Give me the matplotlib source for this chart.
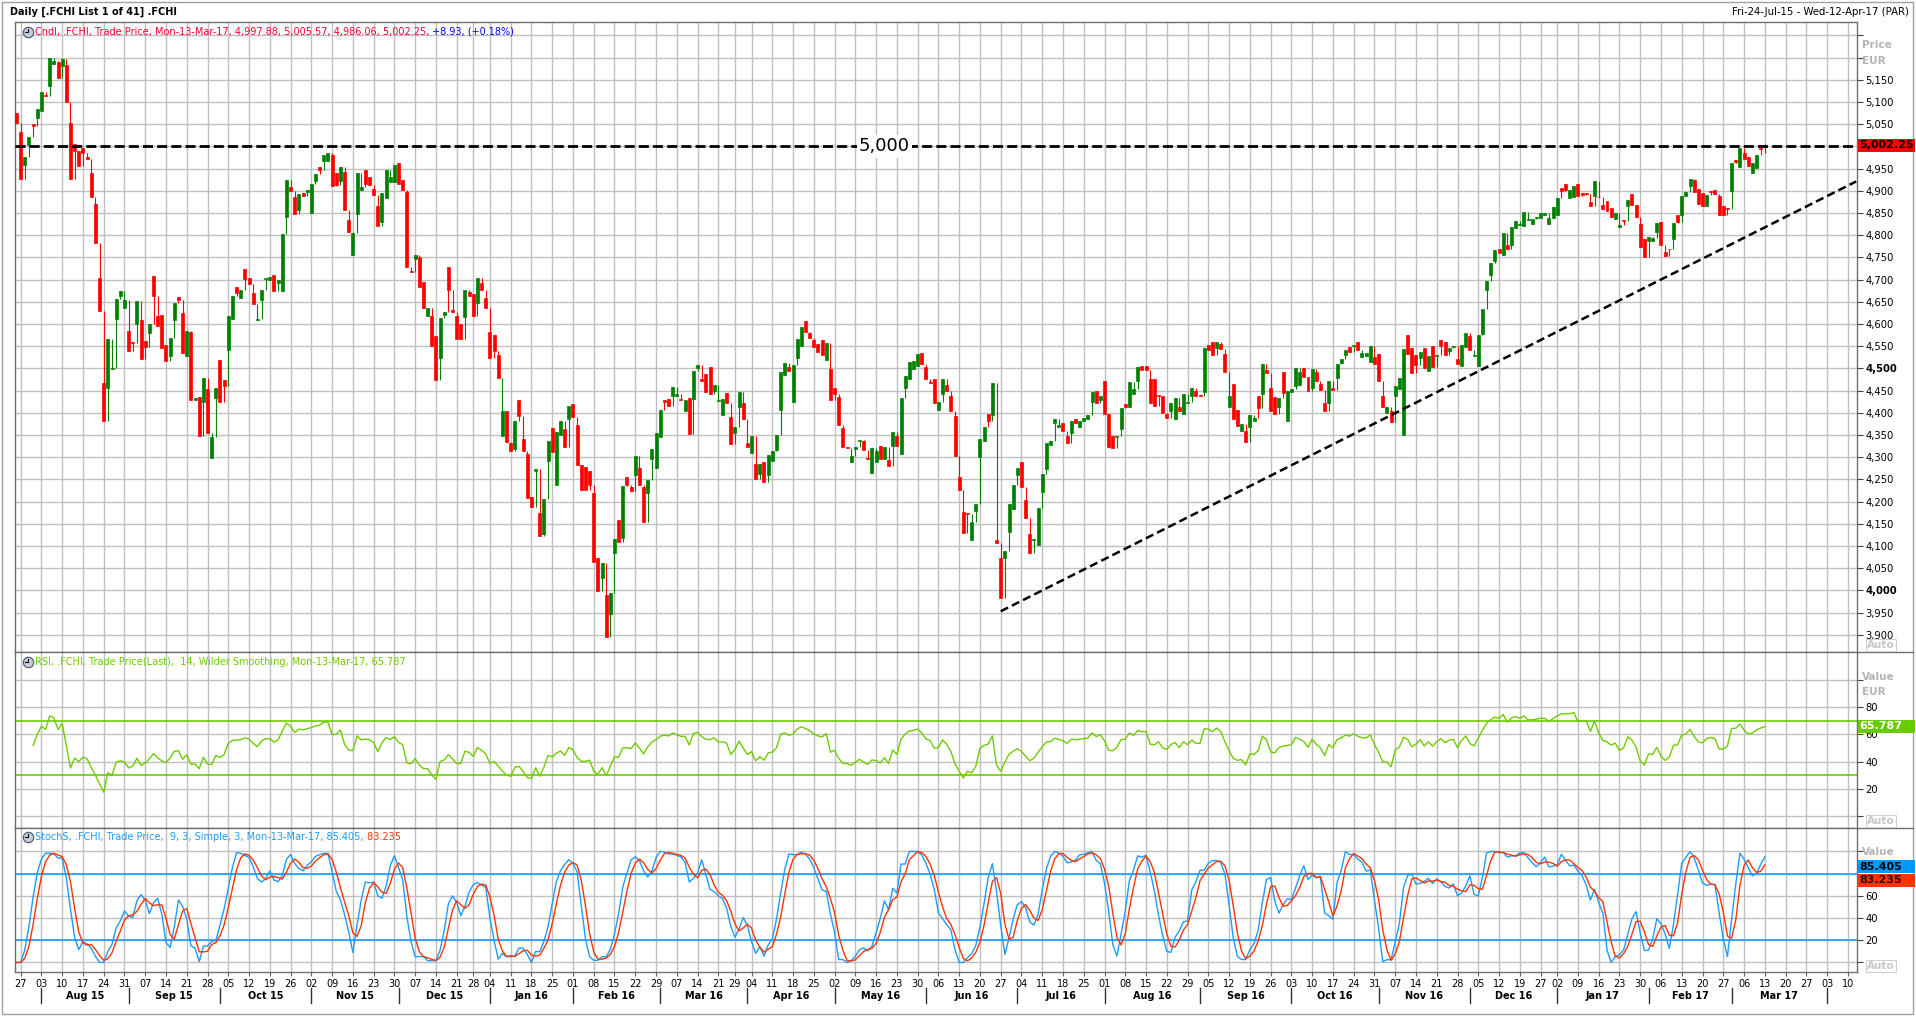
import numpy as np
import pandas as pd
import matplotlib
matplotlib.use("Agg")
import matplotlib.pyplot as plt
import matplotlib.transforms as mtransforms
from matplotlib.lines import Line2D
from matplotlib.patches import Rectangle

plt.rcParams['font.family'] = ['DejaVu Sans']

# ---- data (daily .FCHI candles, 24-Jul-15 .. 13-Mar-17) ----
first_day = "2015-07-24"
axis_end_day = "2017-04-12"
exchange_holidays = ["2015-12-25", "2016-01-01", "2016-03-25", "2016-03-28", "2016-12-26"]

opens = [
    5076, 5032, 4959, 5004, 5050, 5064, 5079, 5115, 5135, 5186,
    5190, 5180, 5184, 5052, 5005, 4990, 4997, 4975, 4940, 4870,
    4704, 4467, 4456, 4498, 4612, 4664, 4637, 4585, 4560, 4599,
    4608, 4562, 4580, 4707, 4617, 4621, 4553, 4529, 4609, 4660,
    4624, 4527, 4583, 4428, 4436, 4425, 4453, 4299, 4434, 4519,
    4474, 4542, 4612, 4683, 4658, 4724, 4704, 4670, 4609, 4653,
    4702, 4698, 4710, 4692, 4674, 4841, 4909, 4886, 4857, 4894,
    4897, 4849, 4922, 4954, 4968, 4966, 4980, 4941, 4921, 4943,
    4834, 4756, 4848, 4901, 4946, 4931, 4904, 4866, 4830, 4883,
    4919, 4919, 4962, 4925, 4897, 4719, 4747, 4750, 4695, 4619,
    4618, 4572, 4523, 4621, 4729, 4632, 4618, 4599, 4615, 4672,
    4667, 4648, 4692, 4658, 4583, 4575, 4530, 4348, 4403, 4333,
    4318, 4428, 4342, 4308, 4211, 4268, 4174, 4127, 4292, 4365,
    4238, 4349, 4363, 4385, 4420, 4372, 4283, 4278, 4269, 4219,
    4074, 4028, 3989, 3948, 4085, 4158, 4118, 4256, 4232, 4260,
    4276, 4232, 4219, 4296, 4276, 4345, 4429, 4431, 4437, 4437,
    4432, 4403, 4434, 4430, 4500, 4476, 4487, 4503, 4450, 4426,
    4396, 4445, 4391, 4354, 4412, 4421, 4332, 4309, 4285, 4262,
    4289, 4259, 4292, 4316, 4407, 4486, 4503, 4425, 4523, 4550,
    4607, 4579, 4563, 4554, 4563, 4520, 4499, 4456, 4436, 4365,
    4323, 4290, 4318, 4336, 4336, 4298, 4265, 4290, 4325, 4296,
    4294, 4325, 4347, 4308, 4456, 4477, 4498, 4505, 4534, 4503,
    4470, 4477, 4407, 4443, 4462, 4438, 4392, 4256, 4176, 4175,
    4114, 4178, 4300, 4336, 4398, 4394, 4113, 4073, 4073, 4131,
    4183, 4260, 4289, 4204, 4127, 4114, 4102, 4222, 4274, 4327,
    4376, 4367, 4376, 4347, 4354, 4385, 4367, 4381, 4385, 4425,
    4449, 4429, 4471, 4397, 4347, 4345, 4363, 4420, 4412, 4443,
    4471, 4505, 4505, 4476, 4477, 4440, 4437, 4398, 4405, 4385,
    4414, 4398, 4423, 4438, 4450, 4440, 4447, 4552, 4559, 4545,
    4554, 4532, 4414, 4465, 4407, 4358, 4360, 4369, 4381, 4438,
    4443, 4496, 4456, 4436, 4412, 4491, 4382, 4447, 4461, 4463,
    4501, 4480, 4456, 4491, 4465, 4422, 4423, 4455, 4478, 4512,
    4530, 4548, 4550, 4560, 4525, 4527, 4514, 4525, 4532, 4438,
    4400, 4403, 4438, 4453, 4349, 4576, 4545, 4530, 4523, 4547,
    4494, 4550, 4528, 4563, 4559, 4539, 4549, 4521, 4505, 4548,
    4572, 4529, 4505, 4578, 4677, 4710, 4741, 4770, 4756, 4778,
    4777, 4817, 4824, 4821, 4834, 4826, 4838, 4839, 4846, 4826,
    4839, 4846, 4906, 4915, 4883, 4885, 4916, 4895, 4894, 4875,
    4888, 4887, 4868, 4876, 4861, 4836, 4818, 4834, 4866, 4892,
    4867, 4826, 4792, 4786, 4786, 4808, 4830, 4763, 4770, 4791,
    4845, 4845, 4888, 4910, 4925, 4904, 4895, 4866, 4899, 4901,
    4888, 4866, 4861, 4899, 4970, 4953, 4984, 4975, 4939, 4952,
    4997, 4997.88,
]
closes = [
    5052, 4926, 4977, 5021, 5045, 5084, 5122, 5113, 5198, 5193,
    5155, 5197, 5099, 4926, 4990, 4956, 4986, 4972, 4885, 4783,
    4630, 4382, 4566, 4501, 4656, 4675, 4654, 4539, 4558, 4652,
    4521, 4548, 4599, 4664, 4596, 4546, 4517, 4569, 4648, 4655,
    4535, 4585, 4428, 4434, 4347, 4478, 4354, 4345, 4456, 4425,
    4461, 4619, 4663, 4670, 4676, 4701, 4689, 4645, 4611, 4676,
    4704, 4705, 4674, 4699, 4802, 4925, 4899, 4848, 4892, 4888,
    4901, 4916, 4937, 4946, 4981, 4984, 4910, 4912, 4953, 4857,
    4808, 4804, 4939, 4908, 4915, 4912, 4890, 4821, 4894, 4946,
    4930, 4959, 4916, 4901, 4729, 4717, 4756, 4683, 4637, 4636,
    4550, 4474, 4614, 4627, 4676, 4626, 4566, 4567, 4676, 4664,
    4619, 4704, 4676, 4637, 4523, 4539, 4478, 4403, 4334, 4314,
    4381, 4392, 4314, 4209, 4189, 4274, 4122, 4205, 4336, 4311,
    4356, 4381, 4323, 4416, 4391, 4283, 4227, 4227, 4238, 4065,
    3998, 4062, 3896, 3995, 4115, 4109, 4236, 4238, 4223, 4302,
    4238, 4155, 4249, 4318, 4354, 4407, 4425, 4416, 4458, 4443,
    4428, 4428, 4352, 4494, 4507, 4472, 4447, 4443, 4463, 4429,
    4432, 4423, 4329, 4369, 4446, 4385, 4323, 4347, 4250, 4284,
    4245, 4305, 4314, 4349, 4492, 4512, 4494, 4507, 4567, 4594,
    4583, 4569, 4548, 4536, 4530, 4558, 4429, 4443, 4372, 4323,
    4320, 4303, 4322, 4338, 4316, 4296, 4320, 4314, 4296, 4322,
    4281, 4356, 4325, 4434, 4483, 4514, 4517, 4532, 4510, 4477,
    4467, 4421, 4425, 4476, 4450, 4405, 4303, 4227, 4130, 4173,
    4154, 4194, 4340, 4367, 4381, 4467, 4106, 3984, 4089, 4195,
    4237, 4275, 4233, 4162, 4085, 4116, 4186, 4262, 4331, 4336,
    4385, 4373, 4358, 4332, 4381, 4376, 4381, 4388, 4394, 4447,
    4421, 4438, 4398, 4323, 4320, 4347, 4410, 4414, 4470, 4454,
    4503, 4496, 4496, 4421, 4416, 4438, 4400, 4389, 4421, 4434,
    4405, 4443, 4425, 4456, 4438, 4438, 4545, 4541, 4530, 4559,
    4543, 4492, 4438, 4385, 4370, 4374, 4334, 4394, 4389, 4410,
    4510, 4490, 4405, 4398, 4434, 4445, 4448, 4453, 4502, 4492,
    4480, 4450, 4499, 4472, 4452, 4405, 4471, 4452, 4509, 4521,
    4541, 4536, 4552, 4541, 4534, 4534, 4550, 4510, 4471, 4414,
    4412, 4379, 4461, 4478, 4543, 4532, 4489, 4507, 4536, 4501,
    4527, 4503, 4530, 4550, 4530, 4545, 4550, 4510, 4552, 4579,
    4541, 4530, 4576, 4633, 4697, 4737, 4766, 4761, 4805, 4770,
    4819, 4833, 4826, 4852, 4836, 4836, 4842, 4850, 4850, 4839,
    4863, 4883, 4900, 4901, 4901, 4910, 4888, 4890, 4892, 4866,
    4923, 4885, 4859, 4854, 4842, 4850, 4823, 4832, 4879, 4867,
    4842, 4774, 4750, 4797, 4794, 4827, 4778, 4754, 4768, 4827,
    4830, 4889, 4897, 4927, 4897, 4870, 4866, 4890, 4897, 4892,
    4846, 4846, 4859, 4962, 4964, 4996, 4972, 4955, 4962, 4981,
    4993.32, 5002.25,
]
last_high = 5005.57
last_low = 4986.06

level_line = 5000
trend_start = ("2016-06-27", 3953)
trend_end = ("2017-04-12", 4921)

cndl_text = "Cndl, .FCHI, Trade Price, Mon-13-Mar-17, 4,997.88, 5,005.57, 4,986.06, 5,002.25,"
cndl_change = " +8.93, (+0.18%)"
rsi_text = "RSI, .FCHI, Trade Price(Last),  14, Wilder Smoothing, Mon-13-Mar-17, 65.787"
sto_text = "StochS, .FCHI, Trade Price,  9, 3, Simple, 3, Mon-13-Mar-17, 85.405,"
rsi_last = 65.787
k_last = 85.405
d_last = 83.235

# ---- derived series ----
days = pd.bdate_range(first_day, axis_end_day)
days = days[~days.isin(pd.to_datetime(exchange_holidays))]
o = np.array(opens, float)
c = np.array(closes, float)
n = len(c)
x = np.arange(n)
prev_c = np.r_[o[0], c[:-1]]
hi = np.maximum.reduce([o, c, prev_c])
lo = np.minimum.reduce([o, c, prev_c])
hi[-1], lo[-1] = last_high, last_low

# RSI 14, Wilder smoothing (first few bars skipped as warm-up)
d = pd.Series(c).diff().iloc[1:]
avg_gain = d.clip(lower=0).ewm(alpha=1 / 14, adjust=True).mean()
avg_loss = (-d.clip(upper=0)).ewm(alpha=1 / 14, adjust=True).mean()
rsi = 100 - 100 / (1 + avg_gain / avg_loss)
rsi_from = 3

# slow stochastic 9, 3, 3
hh = pd.Series(hi).rolling(9, min_periods=1).max()
ll = pd.Series(lo).rolling(9, min_periods=1).min()
fast_k = 100 * (pd.Series(c) - ll) / (hh - ll)
slow_k = fast_k.rolling(3, min_periods=1).mean()
slow_d = slow_k.rolling(3, min_periods=1).mean()

# ---- layout helpers (pixels of the 1916x1022 picture) ----
W, H = 1916, 1022
def box(l, t, r, b):
    return [l / W, 1 - b / H, (r - l) / W, (b - t) / H]
def fx(px):
    return px / W
def fy(py):
    return 1 - py / H

GRID = '#c0c0c0'
FRAME = '#6e6e6e'
GREEN = '#008000'
RED = '#ff0000'
RSI_C = '#6fcc00'
K_C = '#1e9bff'
D_C = '#ff3300'
GREY_TXT = '#b4b4b4'
FS = 7.2

fig = plt.figure(figsize=(W / 100, H / 100), dpi=100)
fig.patch.set_facecolor('white')

ax1 = fig.add_axes(box(15, 22.5, 1857, 651.7))
ax2 = fig.add_axes(box(15, 651.7, 1857, 827.7), sharex=ax1)
ax3 = fig.add_axes(box(15, 827.7, 1857, 972), sharex=ax1)

week_idx = [i for i in range(1, len(days)) if days[i].weekday() < days[i - 1].weekday()]
month_idx = [i for i in range(1, len(days)) if days[i].month != days[i - 1].month]

for ax in (ax1, ax2, ax3):
    ax.set_axisbelow(True)
    for s in ax.spines.values():
        s.set_color(FRAME)
        s.set_linewidth(1)
    ax.yaxis.tick_right()
    ax.tick_params(axis='y', direction='out', length=4, width=0.8, color='#404040',
                   labelsize=FS, pad=2)
    ax.grid(True, color=GRID, linewidth=1.0)
ax1.set_xlim(-0.36, 443.2)
ax1.set_xticks(week_idx)
ax1.tick_params(axis='x', length=0, labelbottom=False)
ax2.tick_params(axis='x', length=0, labelbottom=False)
ax3.tick_params(axis='x', direction='out', length=3, width=0.8, color='#606060',
                labelsize=7, pad=2)
ax3.set_xticklabels([f"{days[i].day:02d}" for i in week_idx])

# ---- price panel ----
ax1.set_ylim(3862, 5279)
yt = np.arange(3900, 5251, 50)
ax1.set_yticks(yt)
# 5,000 sits under the last-price tag, 5,200/5,250 under the caption
ax1.set_yticklabels([f"{v:,}" if v <= 5150 and v != 5000 else "" for v in yt])
for v, lab in zip(yt, ax1.get_yticklabels()):
    if v in (4000, 4500):
        lab.set_fontweight('bold')

up = c >= o
col = np.where(up, GREEN, RED)
ax1.vlines(x, lo, hi, colors=col, linewidth=0.8, zorder=3)
ax1.bar(x, np.abs(c - o), bottom=np.minimum(o, c), width=0.72, color=col,
        edgecolor=col, linewidth=0.5, zorder=3)

ax1.axhline(level_line, color='black', linewidth=2, dashes=(3.6, 1.5), zorder=4)
ax1.text(0.472, level_line, f"{level_line:,}", fontsize=13, ha='center', va='center',
         transform=mtransforms.blended_transform_factory(ax1.transAxes, ax1.transData),
         bbox=dict(facecolor='white', edgecolor='none', pad=1.5), zorder=5)

t0 = days.get_loc(pd.Timestamp(trend_start[0]))
t1 = days.get_loc(pd.Timestamp(trend_end[0]))
ax1.plot([t0, t1], [trend_start[1], trend_end[1]], color='black', linewidth=1.8,
         dashes=(3.3, 1.7), zorder=4)

# ---- RSI panel ----
ax2.set_ylim(-8.2, 120.3)
ax2.set_yticks(np.arange(0, 101, 20))
ax2.set_yticklabels(["", "20", "40", "60", "80", ""])
ax2.plot(x[1 + rsi_from:], rsi.values[rsi_from:], color=RSI_C, linewidth=1, zorder=3)
for lvl in (70, 30):
    ax2.axhline(lvl, color=RSI_C, linewidth=1.2, zorder=2)

# ---- stochastic panel ----
ax3.set_ylim(-8.6, 121.4)
ax3.set_yticks(np.arange(0, 101, 20))
ax3.set_yticklabels(["", "20", "40", "60", "", ""])
for lvl in (80, 20):
    ax3.axhline(lvl, color=K_C, linewidth=1.2, zorder=2)
ax3.plot(x, slow_k.values, color=K_C, linewidth=1, zorder=3)
ax3.plot(x, slow_d.values, color=D_C, linewidth=1, zorder=3)

# month labels and separators under the date row
bt = mtransforms.blended_transform_factory(ax3.transData, ax3.transAxes)
for m in month_idx:
    ax3.plot([m, m], [-0.111, -0.215], transform=bt, color='#303030', linewidth=1,
             clip_on=False)
for a, b in zip(month_idx[:-1], month_idx[1:]):
    ax3.text((a + b) / 2, -0.166, days[a].strftime("%b %y"), transform=bt, ha='center',
             va='center', fontsize=7, fontweight='bold', clip_on=False)

# ---- frame, titles, legends ----
fig.patches.append(Rectangle((fx(2), fy(1014)), fx(1911), 1012 / H, transform=fig.transFigure,
                             fill=False, edgecolor='#a0a0a0', linewidth=1))
for yy in (651.7, 827.7):
    fig.add_artist(Line2D([fx(1857), fx(1913)], [fy(yy)] * 2, color=FRAME, linewidth=1))

fig.text(fx(10), fy(12.3), "Daily [.FCHI List 1 of 41] .FCHI", fontsize=7,
         fontweight='bold', va='center')
fig.text(fx(1909), fy(12.3), "Fri-24-Jul-15 - Wed-12-Apr-17 (PAR)", fontsize=7.3,
         ha='right', va='center')

def legend_icon(py):
    fig.add_artist(Line2D([fx(27.5)], [fy(py)], marker='o', markersize=7.5,
                          markerfacecolor='#c4ccda', markeredgecolor='#4a5262',
                          markeredgewidth=0.8, transform=fig.transFigure))
    fig.add_artist(Line2D([fx(27.5), fx(27.5), fx(24.8)], [fy(py - 3), fy(py), fy(py)],
                          color='black', linewidth=0.8, transform=fig.transFigure))

legend_icon(31.7)
lt = fig.text(fx(35), fy(31.7), cndl_text, color='#ff0033', fontsize=7, va='center')
ax1.annotate(cndl_change, xy=(1, 0.5), xycoords=lt, va='center', ha='left',
             color='#0000ff', fontsize=7, annotation_clip=False)
legend_icon(662)
fig.text(fx(35), fy(662), rsi_text, color=RSI_C, fontsize=7, va='center')
legend_icon(837.3)
st = fig.text(fx(35), fy(837.3), sto_text, color=K_C, fontsize=7, va='center')
ax3.annotate(f" {d_last:.3f}", xy=(1, 0.5), xycoords=st, va='center', ha='left',
             color=D_C, fontsize=7, annotation_clip=False)

# right-hand captions
for txt, py in (("Price", 45), ("EUR", 61), ("Value", 677), ("EUR", 692), ("Value", 852)):
    fig.text(fx(1862), fy(py), txt, color=GREY_TXT, fontsize=7.5, fontweight='bold',
             va='center')
for py in (645, 821, 966):
    fig.text(fx(1867), fy(py), "Auto", color='#c8c8c8', fontsize=7.5, fontweight='bold',
             va='center', bbox=dict(facecolor='white', edgecolor='#d0d0d0', pad=0.8,
                                    linewidth=0.8))

# value tags on the right axis
def value_tag(ax, value, text, face, txtcolor, shift_px=0):
    ypix = ax.transData.transform((0, value))[1] - shift_px
    h = 13
    fig.patches.append(Rectangle((fx(1857.5), (ypix - h / 2) / H), 57 / W, h / H,
                                 transform=fig.transFigure, facecolor=face,
                                 edgecolor='none', zorder=5))
    fig.text(fx(1859), ypix / H, text, color=txtcolor, fontsize=8, fontweight='bold',
             va='center', ha='left', zorder=6)

value_tag(ax1, closes[-1], f"{closes[-1]:,.2f}", RED, 'black')
value_tag(ax2, rsi_last, f"{rsi_last:.3f}", '#66cc00', 'white')
value_tag(ax3, k_last, f"{k_last:.3f}", '#0099ff', 'black', shift_px=-1)
value_tag(ax3, k_last, f"{d_last:.3f}", D_C, '#400000', shift_px=12.5)

fig.savefig("out.png", dpi=100)
